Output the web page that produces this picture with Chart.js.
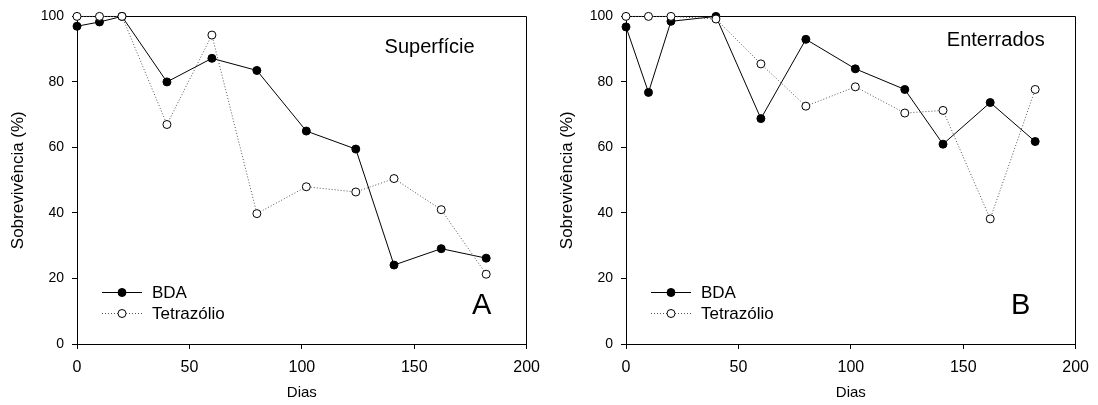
<!DOCTYPE html>
<html><head><meta charset="utf-8">
<script src="https://cdn.jsdelivr.net/npm/chart.js@4.4.0/dist/chart.umd.min.js"></script>
<style>html,body{margin:0;padding:0;background:#fff;overflow:hidden}.p{position:absolute;top:0;width:549px;height:405px}</style>
</head><body>
<div class="p" style="left:0"><canvas id="cA" width="549" height="405"></canvas></div>
<div class="p" style="left:549px"><canvas id="cB" width="549" height="405"></canvas></div>
<script>
// ---- data ----
const days = [0, 10, 20, 40, 60, 80, 102, 124, 141, 162, 182];
const bdaSuperficie = [97, 98.3, 100, 80, 87.2, 83.5, 65, 59.5, 24.1, 29.1, 26.2];
const tetraSuperficie = [100, 100, 100, 67, 94.3, 39.8, 48, 46.4, 50.5, 41, 21.3];
const bdaEnterrados = [96.8, 76.8, 98.5, 100, 68.8, 93, 84, 77.7, 61, 73.7, 61.8];
const tetraEnterrados = [100, 100, 100, 99.2, 85.5, 72.6, 78.5, 70.5, 71.3, 38.2, 77.7];
const xTicks = [0, 50, 100, 150, 200];
const yTicks = [0, 20, 40, 60, 80, 100];
const seriesNames = ['BDA', 'Tetrazólio'];
const panelTitles = ['Superfície', 'Enterrados'];
const panelLetters = ['A', 'B'];
const xAxisTitle = 'Dias';
const yAxisTitle = 'Sobrevivência (%)';

const FONT = "'Liberation Sans', Arial, Helvetica, sans-serif";
Chart.defaults.color = '#000';
Chart.defaults.font.family = FONT;

function pts(ys) { return days.map((d, i) => ({x: d, y: ys[i]})); }

function decor(p) {
  return {
    id: 'decor',
    beforeDatasetsDraw(chart) {
      const {ctx, chartArea: a} = chart;
      ctx.save();
      ctx.strokeStyle = '#000'; ctx.lineWidth = 1;
      const t = Math.round(a.top) + 0.5, r = Math.round(a.right) - 0.5;
      ctx.beginPath();
      ctx.moveTo(Math.round(a.left), t); ctx.lineTo(r, t); ctx.lineTo(r, Math.round(a.bottom));
      ctx.stroke();
      ctx.restore();
    },
    afterDraw(chart) {
      const {ctx, chartArea: a} = chart;
      ctx.save();
      // panel title
      ctx.fillStyle = '#000';
      ctx.font = '20px ' + FONT;
      ctx.textBaseline = 'middle'; ctx.textAlign = 'right';
      ctx.fillText(p.title, a.right - p.titleRight, p.titleY);
      // letter
      ctx.font = '29px ' + FONT; ctx.textAlign = 'center';
      ctx.fillText(p.letter, a.right - p.letterRight, 306);
      // legend
      chart.data.datasets.forEach((ds, i) => {
        const y = 292 + i * 21;
        const x0 = a.left + 25, x1 = a.left + 65, xm = a.left + 45;
        ctx.strokeStyle = ds.borderColor; ctx.lineWidth = ds.borderWidth;
        ctx.setLineDash(ds.borderDash || []);
        ctx.beginPath(); ctx.moveTo(x0, y + 0.5); ctx.lineTo(x1, y + 0.5); ctx.stroke();
        ctx.setLineDash([]);
        ctx.beginPath(); ctx.arc(xm, y + 0.5, ds.pointRadius, 0, Math.PI * 2);
        ctx.fillStyle = ds.pointBackgroundColor; ctx.fill();
        ctx.strokeStyle = ds.pointBorderColor; ctx.lineWidth = 1; ctx.stroke();
        ctx.fillStyle = '#000'; ctx.font = '17px ' + FONT;
        ctx.textAlign = 'left'; ctx.textBaseline = 'middle';
        ctx.fillText(ds.label, a.left + 75, y + 1);
      });
      ctx.restore();
    }
  };
}

function makeChart(id, bda, tetra, p) {
  return new Chart(document.getElementById(id), {
    type: 'line',
    data: {
      datasets: [
        {label: seriesNames[0], data: pts(bda), borderColor: '#000', borderWidth: 1,
         pointRadius: 4, pointBackgroundColor: '#000', pointBorderColor: '#000', pointBorderWidth: 1,
         tension: 0, clip: false, order: 2},
        {label: seriesNames[1], data: pts(tetra), borderColor: '#555', borderWidth: 1, borderDash: [1, 2],
         pointRadius: 4, pointBackgroundColor: '#fff', pointBorderColor: '#000', pointBorderWidth: 1,
         tension: 0, clip: false, order: 1}
      ]
    },
    options: {
      responsive: false, animation: false, devicePixelRatio: 1,
      layout: {padding: {top: 16, right: p.padRight, left: 0, bottom: 0}},
      plugins: {legend: {display: false}, tooltip: {enabled: false}},
      scales: {
        x: {
          type: 'linear', min: 0, max: 200,
          afterBuildTicks: s => { s.ticks = xTicks.map(v => ({value: v})); },
          afterFit: s => { s.height = 61; },
          grid: {display: true, drawOnChartArea: false, drawTicks: true, tickLength: 5, color: '#000'},
          border: {display: true, color: '#000', width: 1},
          ticks: {font: {size: 16}, padding: 9, maxRotation: 0},
          title: {display: true, text: xAxisTitle, font: {size: 15}, padding: {top: 0, bottom: 3}}
        },
        y: {
          type: 'linear', min: 0, max: 100,
          afterBuildTicks: s => { s.ticks = yTicks.map(v => ({value: v})); },
          afterFit: s => { s.width = 77; },
          grid: {display: true, drawOnChartArea: false, drawTicks: true, tickLength: 5, color: '#000'},
          border: {display: true, color: '#000', width: 1},
          ticks: {font: {size: 14}, padding: 8},
          title: {display: true, text: yAxisTitle, font: {size: 17}, padding: {top: 8, bottom: 0}}
        }
      }
    },
    plugins: [decor(p)]
  });
}

makeChart('cA', bdaSuperficie, tetraSuperficie,
  {title: panelTitles[0], letter: panelLetters[0], padRight: 14, titleRight: 52, titleY: 47, letterRight: 45});
makeChart('cB', bdaEnterrados, tetraEnterrados,
  {title: panelTitles[1], letter: panelLetters[1], padRight: 16, titleRight: 31, titleY: 40, letterRight: 55});
</script>
</body></html>
